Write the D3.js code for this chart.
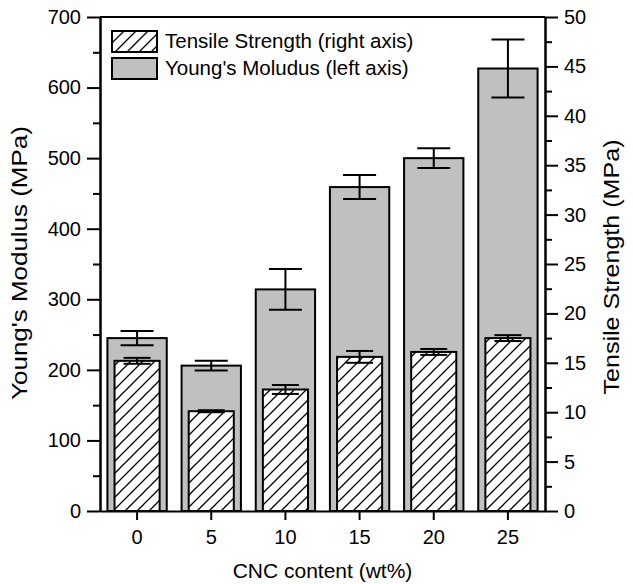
<!DOCTYPE html>
<html>
<head>
<meta charset="utf-8" />
<script src="https://d3js.org/d3.v7.min.js"></script>
<style>
  body { margin: 0; background: #fff; }
  svg text { font-family: "Liberation Sans", Arial, sans-serif; fill: #000; }
</style>
</head>
<body>
<svg id="chart" width="633" height="584"></svg>
<script>
// data
var cnc = ["0", "5", "10", "15", "20", "25"];
var modulus = [245, 206, 314, 459, 500, 627];      // left axis, MPa
var modulusErr = [10, 7, 29, 17, 14, 41];
var tensile = [15.2, 10.1, 12.3, 15.6, 16.1, 17.5]; // right axis, MPa
var tensileErr = [0.3, 0.1, 0.45, 0.6, 0.3, 0.3];
var leftTicks = [0, 100, 200, 300, 400, 500, 600, 700];
var rightTicks = [0, 5, 10, 15, 20, 25, 30, 35, 40, 45, 50];

var svg = d3.select("#chart"),
  margin = { top: 17, right: 88, bottom: 73, left: 100 },
  width = +svg.attr("width"),
  height = +svg.attr("height");

var x = d3.scaleBand().domain(cnc).range([margin.left, width - margin.right]).paddingInner(0.2).paddingOuter(0.1);
var yL = d3.scaleLinear().domain([0, 700]).range([height - margin.bottom, margin.top]);
var yR = d3.scaleLinear().domain([0, 50]).range([height - margin.bottom, margin.top]);

var defs = svg.append("defs");
var pat = defs.append("pattern")
  .attr("id", "hatch")
  .attr("patternUnits", "userSpaceOnUse")
  .attr("width", 12).attr("height", 12);
pat.append("rect").attr("width", 12).attr("height", 12).attr("fill", "#fff");
pat.append("path")
  .attr("d", "M0,12 L12,0 M-3,3 L3,-3 M9,15 L15,9")
  .attr("stroke", "#000").attr("stroke-width", 1.3);

var bw = x.bandwidth();
var hw = bw * 0.76;

// grey bars (Young's modulus)
svg.append("g").selectAll("rect")
  .data(modulus).enter().append("rect")
  .attr("x", (d, i) => x(cnc[i]))
  .attr("y", d => yL(d))
  .attr("width", bw)
  .attr("height", d => yL(0) - yL(d))
  .attr("fill", "#c0c0c0")
  .attr("stroke", "#000").attr("stroke-width", 2);

function errBars(vals, errs, scale, cap) {
  var g = svg.append("g").attr("stroke", "#000").attr("stroke-width", 2);
  vals.forEach(function (v, i) {
    var cx = x(cnc[i]) + bw / 2;
    var hi = scale(v + errs[i]), lo = scale(v - errs[i]);
    g.append("line").attr("x1", cx).attr("x2", cx).attr("y1", hi).attr("y2", lo);
    g.append("line").attr("x1", cx - cap / 2).attr("x2", cx + cap / 2).attr("y1", hi).attr("y2", hi);
    g.append("line").attr("x1", cx - cap / 2).attr("x2", cx + cap / 2).attr("y1", lo).attr("y2", lo);
  });
}
errBars(modulus, modulusErr, yL, 33);

// hatched bars (tensile strength)
svg.append("g").selectAll("rect")
  .data(tensile).enter().append("rect")
  .attr("x", (d, i) => x(cnc[i]) + (bw - hw) / 2)
  .attr("y", d => yR(d))
  .attr("width", hw)
  .attr("height", d => yR(0) - yR(d))
  .attr("fill", "url(#hatch)")
  .attr("stroke", "#000").attr("stroke-width", 2);
errBars(tensile, tensileErr, yR, 27);

// axes
var fs = "20px";
var gl = svg.append("g").attr("transform", "translate(" + margin.left + ",0)")
  .call(d3.axisLeft(yL).tickValues(leftTicks).tickSize(13).tickPadding(6).tickSizeOuter(0));
var gl2 = svg.append("g").attr("transform", "translate(" + margin.left + ",0)")
  .call(d3.axisLeft(yL).tickValues(d3.range(50, 700, 100)).tickSize(7).tickFormat("").tickSizeOuter(0));
var gr = svg.append("g").attr("transform", "translate(" + (width - margin.right) + ",0)")
  .call(d3.axisRight(yR).tickValues(rightTicks).tickSize(13).tickPadding(6).tickSizeOuter(0));
var gr2 = svg.append("g").attr("transform", "translate(" + (width - margin.right) + ",0)")
  .call(d3.axisRight(yR).tickValues(d3.range(2.5, 50, 5)).tickSize(7).tickFormat("").tickSizeOuter(0));
var gb = svg.append("g").attr("transform", "translate(0," + (height - margin.bottom) + ")")
  .call(d3.axisBottom(x).tickSize(9).tickPadding(10).tickSizeOuter(0));

[gl, gl2, gr, gr2, gb].forEach(function (g) {
  g.selectAll("text").style("font-size", fs).attr("font-family", null);
  g.selectAll("line").attr("stroke", "#000").attr("stroke-width", 2);
  g.select(".domain").attr("stroke", "#000").attr("stroke-width", 2);
});

// top frame
svg.append("line")
  .attr("x1", margin.left).attr("x2", width - margin.right)
  .attr("y1", margin.top).attr("y2", margin.top)
  .attr("stroke", "#000").attr("stroke-width", 2);

// axis titles (rotated ones a bit stretched, as in the figure)
svg.append("text")
  .attr("transform", "translate(" + 27 + "," + 263 + ") rotate(-90) scale(1.18,1)")
  .attr("text-anchor", "middle").style("font-size", "22px")
  .text("Young's Modulus (MPa)");
svg.append("text")
  .attr("transform", "translate(" + 619 + "," + 267 + ") rotate(-90) scale(1.14,1)")
  .attr("text-anchor", "middle").style("font-size", "22px")
  .text("Tensile Strength (MPa)");
svg.append("text")
  .attr("x", (margin.left + width - margin.right) / 2).attr("y", 578)
  .attr("text-anchor", "middle").style("font-size", "21px")
  .text("CNC content (wt%)");

// legend
var legend = [
  { label: "Tensile Strength (right axis)", fill: "url(#hatch)" },
  { label: "Young's Moludus (left axis)", fill: "#c0c0c0" }
];
var lg = svg.append("g").attr("transform", "translate(112,31)");
legend.forEach(function (d, i) {
  lg.append("rect").attr("x", 0).attr("y", i * 27).attr("width", 45).attr("height", 21)
    .attr("fill", d.fill).attr("stroke", "#000").attr("stroke-width", 2);
  lg.append("text").attr("x", 53).attr("y", i * 27 + 17).style("font-size", "20.5px").text(d.label);
});
</script>
</body>
</html>
